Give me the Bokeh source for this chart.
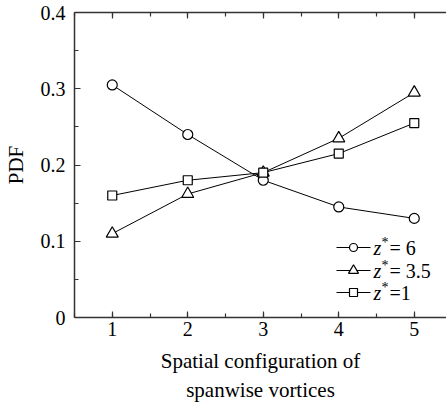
from bokeh.plotting import figure
from bokeh.models import LinearAxis, FixedTicker, Range1d, Label, Title
from bokeh.embed import file_html
from bokeh.resources import INLINE

configs = [1, 2, 3, 4, 5]
pdf_z6 = [0.305, 0.240, 0.180, 0.145, 0.130]
pdf_z35 = [0.110, 0.162, 0.190, 0.235, 0.295]
pdf_z1 = [0.160, 0.180, 0.190, 0.215, 0.255]
legend_values = ["= 6", "= 3.5", "=1"]
x_ticks = [1, 2, 3, 4, 5]
y_ticks = [0, 0.1, 0.2, 0.3, 0.4]
x_title_lines = ["Spatial configuration of", "spanwise vortices"]

FONT = "Times New Roman"
AX = "#333333"

X0, X1 = 0.5, 5.427
Y0, Y1 = 0.0, 0.4

p = figure(width=446, height=404, output_backend="svg", toolbar_location=None,
           x_range=Range1d(X0, X1), y_range=Range1d(Y0, Y1),
           min_border_left=74, min_border_right=0, min_border_top=12, min_border_bottom=87,
           x_axis_location=None, y_axis_location=None)
p.outline_line_color = None
p.grid.visible = False
p.background_fill_color = "white"
p.border_fill_color = "white"

def style_axis(ax, show_labels=True):
    ax.axis_line_color = AX
    ax.axis_line_width = 1.5
    ax.major_tick_line_color = AX
    ax.minor_tick_line_color = AX
    ax.major_tick_line_width = 1.2
    ax.minor_tick_line_width = 1.2
    ax.major_tick_in = 6
    ax.major_tick_out = 0
    ax.minor_tick_in = 4
    ax.minor_tick_out = 0
    ax.major_label_text_font = FONT
    ax.major_label_text_font_size = "20px" if show_labels else "0px"
    ax.major_label_text_color = "black"
    ax.axis_label_text_font = FONT
    ax.axis_label_text_font_size = "21px"
    ax.axis_label_text_font_style = "normal"
    ax.axis_label_text_color = "black"

xt = FixedTicker(ticks=x_ticks, minor_ticks=[0.5 + 0.5 * i for i in range(11)])
yt = FixedTicker(ticks=y_ticks, minor_ticks=[0.05 + 0.1 * i for i in range(4)])

xb = LinearAxis(ticker=xt, axis_label=x_title_lines[0])
style_axis(xb)
xb.major_label_standoff = 4
xb.axis_label_standoff = 10
xb.axis_label_text_line_height = 1.0
p.add_layout(xb, "below")

p.add_layout(Title(text=x_title_lines[1], align="center", text_font=FONT,
                   text_font_size="21px", text_font_style="normal",
                   text_line_height=1.0,
                   text_color="black", standoff=0, offset=0), "below")

xa = LinearAxis(ticker=xt)
style_axis(xa, show_labels=False)
xa.major_label_standoff = 0
p.add_layout(xa, "above")

yl = LinearAxis(ticker=yt, axis_label="PDF")
style_axis(yl)
yl.major_label_standoff = 9
yl.axis_label_standoff = 10
yl.major_label_overrides = {0: "0"}
p.add_layout(yl, "left")

series = [
    (pdf_z6, "circle", 10),
    (pdf_z35, "triangle", 12),
    (pdf_z1, "square", 9),
]
for ys, marker, size in series:
    p.line(configs, ys, line_color="black", line_width=1)
    p.scatter(configs, ys, marker=marker, size=size, fill_color="white",
              line_color="black", line_width=1.2)

# legend layout: pixel offsets from the frame's top-left, converted to data units
PX_X = 75.5     # pixels per x unit
PX_Y = 762.5    # pixels per y unit
FB = 305.0      # frame bottom, px below frame top
def dx(px):
    return X0 + px / PX_X
def dy(py):
    return (FB - py) / PX_Y

rows = [235, 258, 280]
leg_markers = [("circle", 8), ("triangle", 10), ("square", 8)]
for (marker, size), ry, lab in zip(leg_markers, rows, legend_values):
    p.line([dx(262), dx(296)], [dy(ry), dy(ry)], line_color="black", line_width=1)
    p.scatter([dx(279)], [dy(ry)], marker=marker, size=size, fill_color="white",
              line_color="black", line_width=1.2)
    p.add_layout(Label(x=dx(299), y=dy(ry), text="z", text_font=FONT,
                       text_font_size="20px", text_font_style="italic",
                       text_baseline="middle", text_color="black"))
    p.add_layout(Label(x=dx(307), y=dy(ry - 5), text="*", text_font=FONT,
                       text_font_size="14px", text_baseline="middle", text_color="black"))
    p.add_layout(Label(x=dx(315), y=dy(ry), text=lab, text_font=FONT,
                       text_font_size="20px", text_baseline="middle", text_color="black"))

open("out.html", "w").write(file_html(p, INLINE))
